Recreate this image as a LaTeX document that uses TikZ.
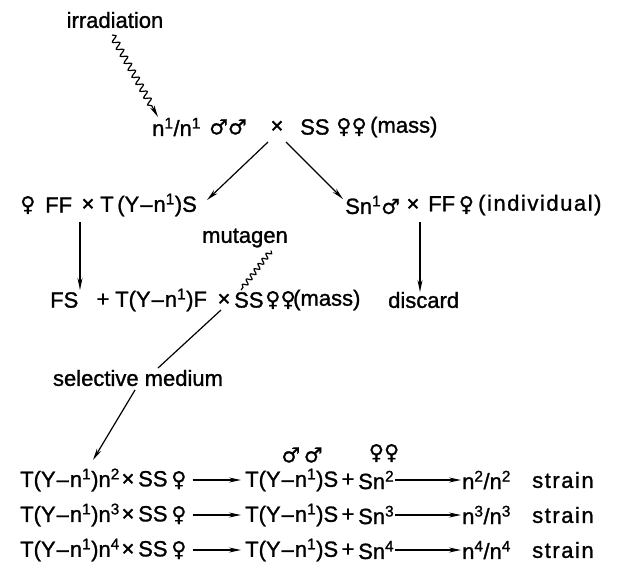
\documentclass[tikz,border=0pt]{standalone}
\usepackage{fontspec}
\setmainfont{Liberation Sans}[FakeBold=1.2]
\newfontfamily\symf{DejaVu Sans}[FakeBold=0.8,Scale=0.95]
\usetikzlibrary{arrows.meta,decorations.pathmorphing}
\newcommand\fem{{\symf ♀}}
\newcommand\mal{{\symf ♂}}
\newcommand\sps[1]{\textsuperscript{#1}}
\newcommand\mn{\kern1pt–\kern1pt}
\newcommand\wide{\addfontfeature{LetterSpace=7}}
\begin{document}
\begin{tikzpicture}[x=1pt,y=-1pt,
  txt/.style={inner sep=0pt,anchor=west,font=\fontsize{22}{24}\selectfont},
  ctr/.style={inner sep=0pt,font=\fontsize{22}{24}\selectfont},
  arr/.style={line width=1.2pt,-{Stealth[length=12pt,width=5pt]}},
  wavy/.style={line width=1.2pt,decorate,decoration={snake,amplitude=3.2pt,segment length=8pt,post length=12pt}}]
\useasboundingbox (0,0) rectangle (626,563);
% labels
\node[ctr] (irr) at (115,20) {irradiation};
\node[ctr] (mut) at (245,238) {mutagen};
\node[ctr] (sel) at (138,378) {selective medium};
% row 1
\node[txt] (r1a) at (152,127) {n\sps{1}/n\sps{1}};
\node[txt] (r1m) at (209,127) {\mal\mal};
\node[ctr] (x1) at (277,127) {×};
\node[txt] (r1b) at (300,127) {SS};
\node[txt] (r1f) at (336,127) {\fem\fem};
\node[txt] (r1c) at (370,127) {(mass)};
% row 2 left
\node[txt] (r2f) at (20,205) {\fem};
\node[txt] (r2a) at (45,205) {FF};
\node[ctr] (x2) at (88,205) {×};
\node[txt] (r2b) at (100,205) {T\,(Y\mn n\sps{1})S};
% row 2 right
\node[txt] (r2c) at (345,205) {Sn\sps{1}\mal};
\node[ctr] (x2r) at (413,205) {×};
\node[txt] (r2d) at (428,205) {FF\,\fem};
\node[txt] (r2e) at (478,205) {\wide(individual)};
% row 3
\node[txt] (r3a) at (50,300) {FS};
\node[ctr] (p3) at (103,300) {+};
\node[txt] (r3b) at (115,300) {T(Y\mn n\sps{1})F};
\node[ctr] (x3) at (224,300) {×};
\node[txt] (r3c) at (234,300) {SS};
\node[txt] (r3f) at (265,300) {\fem\fem};
\node[txt] (r3d) at (293,300) {(mass)};
\node[txt] (dis) at (388,300) {discard};
% rows 4-6
\node[ctr] (mm) at (302,455) {\mal\,\mal};
\node[ctr] (ff) at (384,453) {\fem\fem};
\foreach \i/\y in {2/480,3/515,4/550}{
  \node[txt] (a\i) at (20,\y) {T(Y\mn n\sps{1})n\sps{\i}};
  \node[ctr] (xa\i) at (128,\y) {×};
  \node[txt] (s\i) at (138,\y) {SS\,\fem};
  \node[txt] (b\i) at (245,\y) {T(Y\mn n\sps{1})S};
  \node[ctr] (pb\i) at (348,\y) {+};
  \node[txt] (t\i) at (358,\y) {Sn\sps{\i}};
  \node[txt] (c\i) at (462,\y) {n\sps{\i}/n\sps{\i}};
  \node[txt] (d\i) at (532,\y) {\wide strain};
  \draw[arr] ([xshift=6pt]s\i.east) -- ([xshift=-4pt]b\i.west);
  \draw[arr] ([xshift=1pt]t\i.east) -- ([xshift=-1pt]c\i.west);
}
% connectors
\coordinate (w1s) at (112,35);
\draw[wavy,-{Stealth[length=12pt,width=5pt]}] (w1s) -- ([shift={(6,-10)}]r1a.west);
\draw[arr] ([shift={(-9,15)}]x1.center) -- ([shift={(10,-5)}]r2b.east);
\draw[arr] ([shift={(9,15)}]x1.center) -- ([shift={(-2,-6)}]r2c.west);
\coordinate (v1s) at (80,222);
\coordinate (v1e) at (80,290);
\draw[arr] (v1s) -- (v1e);
\coordinate (v2s) at (420,222);
\coordinate (v2e) at (420,292);
\draw[arr] (v2s) -- (v2e);
\draw[line width=1.2pt,decorate,decoration={snake,amplitude=2.4pt,segment length=6.5pt}] ([shift={(26,3)}]mut.south) -- ([shift={(7,-10)}]r3c.west);
\draw[line width=1.2pt] ([shift={(-3,10)}]x3.center) -- ([shift={(20,-10)}]sel.center);
\draw[arr] ([shift={(-3,12)}]sel.center) -- ([shift={(73,-20)}]a2.west);
\end{tikzpicture}
\end{document}
